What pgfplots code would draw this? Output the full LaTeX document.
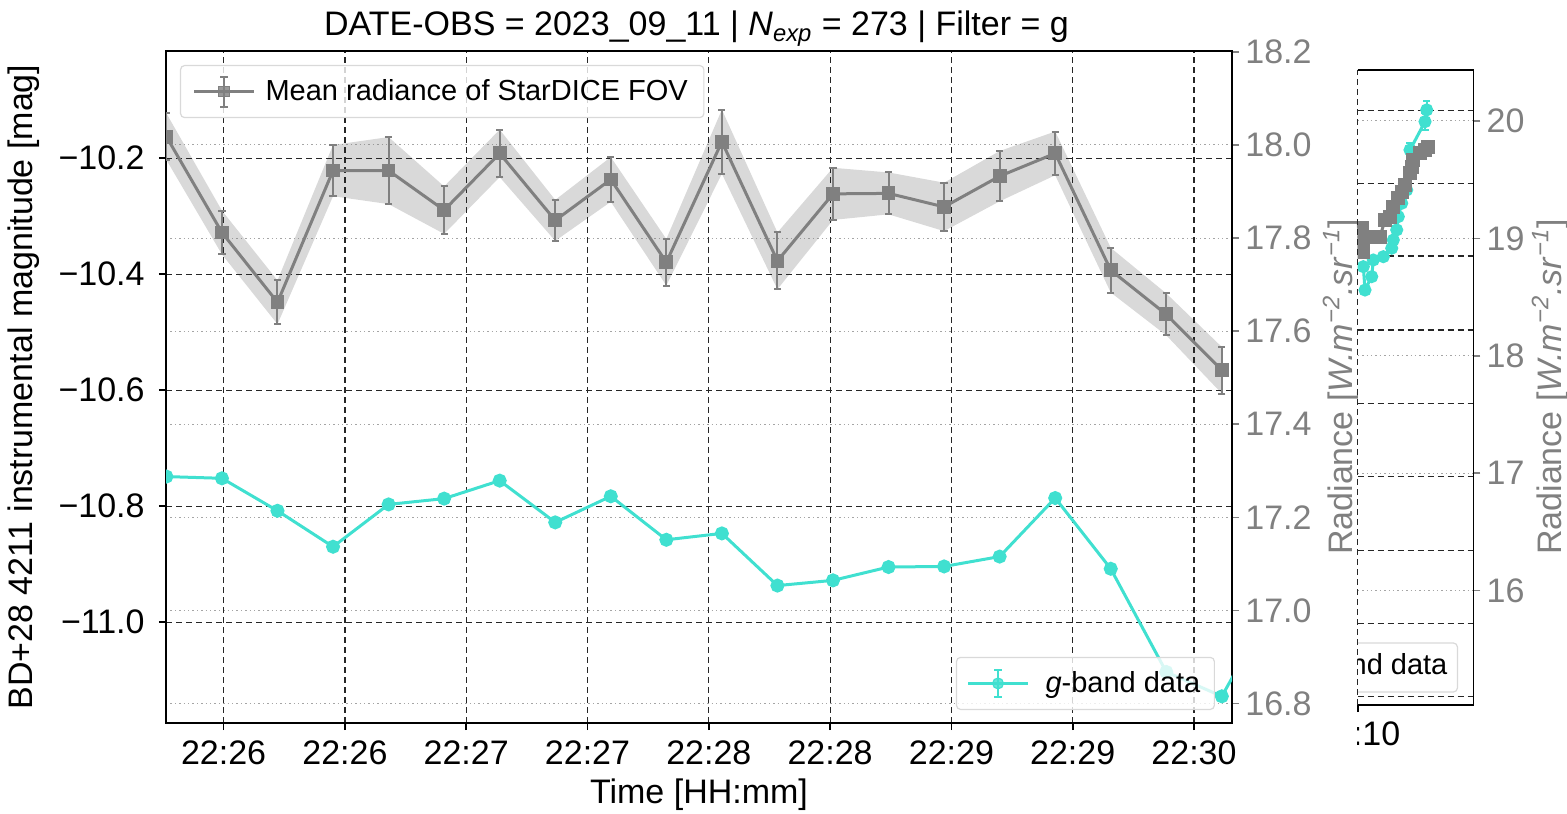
\documentclass[border=0pt]{standalone}
\usepackage{pgfplots}
\pgfplotsset{compat=1.18}
\usepackage{pgfplotstable}
\usepgfplotslibrary{fillbetween}
\usepackage{fontspec}
\setmainfont{Liberation Sans}
\definecolor{mgray}{RGB}{128,128,128}
\definecolor{turq}{RGB}{64,224,208}
\definecolor{gridgray}{RGB}{165,165,165}
\newcommand{\tf}{\fontsize{17}{20}\selectfont}
\newcommand{\lf}{\fontsize{14.5}{17}\selectfont}

% Mean radiance of StarDICE FOV (right axis)
\pgfplotstableread{
x y e
0 18.018 0.050
1 17.812 0.047
2 17.662 0.047
3 17.945 0.055
4 17.945 0.072
5 17.860 0.051
6 17.982 0.051
7 17.838 0.044
8 17.926 0.048
9 17.748 0.050
10 18.007 0.069
11 17.751 0.061
12 17.895 0.056
13 17.896 0.045
14 17.867 0.052
15 17.933 0.054
16 17.982 0.047
17 17.731 0.048
18 17.636 0.045
19 17.516 0.050
}\grayd

% g-band data (left axis)
\pgfplotstableread{
x y
0 -10.749
1 -10.752
2 -10.808
3 -10.870
4 -10.797
5 -10.787
6 -10.756
7 -10.828
8 -10.783
9 -10.858
10 -10.847
11 -10.937
12 -10.928
13 -10.905
14 -10.904
15 -10.887
16 -10.786
17 -10.908
18 -11.086
19 -11.128
20 -10.956
}\cyand

% side panel
\pgfplotstableread{
x y
1.0 19.050
4.0 19.086
5.6 18.972
5.6 18.887
14.0 19.014
22.3 19.014
27.3 19.157
32.3 19.185
35.6 19.270
40.6 19.342
44.0 19.398
47.3 19.455
52.3 19.555
54.0 19.611
55.6 19.668
62.3 19.725
67.3 19.753
70.6 19.776
}\panelgray

\pgfplotstableread{
x y e
5.6 18.759 0.03
7.3 18.560 0.03
14.0 18.674 0.03
15.6 18.816 0.03
25.6 18.844 0.03
34.0 18.916 0.03
35.6 18.986 0.03
39.0 19.072 0.03
40.6 19.185 0.03
44.0 19.299 0.03
49.0 19.412 0.03
52.3 19.753 0.06
67.3 19.994 0.07
69.0 20.094 0.08
}\panelcyan

\begin{document}
\begin{tikzpicture}

% ---------- main axis: left (magnitude) ----------
\begin{axis}[
  name=main,
  at={(83pt,45pt)}, anchor=south west,
  scale only axis, width=533pt, height=336pt,
  xmin=-0.007, xmax=19.183,
  ymin=-11.174, ymax=-10.015,
  tick pos=left, tick align=outside,
  major tick length=3.5pt,
  xtick={1.030,3.2136,5.3972,7.5808,9.7644,11.948,14.1316,16.3152,18.4988},
  xticklabels={22:26,22:26,22:27,22:27,22:28,22:28,22:29,22:29,22:30},
  ytick={-11.0,-10.8,-10.6,-10.4,-10.2},
  yticklabels={−11.0,−10.8,−10.6,−10.4,−10.2},
  ticklabel style={font=\tf, inner sep=0pt},
  xticklabel shift=5pt, yticklabel shift=7pt,
  grid=major,
  major grid style={black!85, line width=0.6pt, dash pattern=on 3pt off 2pt},
  axis line style={line width=0.8pt},
  tick style={black, line width=0.8pt},
  clip marker paths=true,
  legend style={at={(0.984,0.0193)}, anchor=south east, font=\lf,
    draw=black!15, rounded corners=2pt, fill=white, fill opacity=0.8, text opacity=1,
    inner xsep=5pt, inner ysep=5pt, line width=0.6pt},
]
\addlegendimage{legend image code/.code={
  \draw[turq, line width=1.5pt, sharp corners] (0pt,0pt) -- (30pt,0pt);
  \draw[turq, line width=1pt, sharp corners] (15pt,-6.75pt) -- (15pt,6.75pt) (13pt,-6.75pt) -- (17pt,-6.75pt) (13pt,6.75pt) -- (17pt,6.75pt);
  \fill[turq] (15pt,0pt) circle (2.7pt);
}}
\addlegendentry{\hspace{6pt}\textit{g}-band data}
\addplot[turq, line width=1.5pt, mark=*, mark size=2.75pt, forget plot] table[x=x,y=y]{\cyand};
\end{axis}

% ---------- main axis: right (radiance) ----------
\begin{axis}[
  at={(83pt,45pt)}, anchor=south west,
  scale only axis, width=533pt, height=336pt,
  xmin=-0.007, xmax=19.183,
  ymin=16.758, ymax=18.202,
  axis x line=none, axis y line*=right,
  tick align=outside, major tick length=3.5pt,
  ytick={16.8,17.0,17.2,17.4,17.6,17.8,18.0,18.2},
  yticklabels={16.8,17.0,17.2,17.4,17.6,17.8,18.0,18.2},
  yticklabel style={font=\tf, text=mgray, inner sep=0pt},
  yticklabel shift=3pt,
  ymajorgrids,
  major grid style={gridgray, line width=0.5pt, dash pattern=on 0.7pt off 1.5pt},
  y axis line style={line width=0.8pt},
  ytick style={mgray, line width=0.8pt},
  clip marker paths=true,
  legend style={at={(0.0131,0.9792)}, anchor=north west, font=\lf,
    draw=black!15, rounded corners=2pt, fill=white, fill opacity=0.8, text opacity=1,
    inner xsep=6pt, inner ysep=5pt, line width=0.6pt},
]
\addlegendimage{legend image code/.code={
  \draw[mgray, line width=1.5pt, sharp corners] (0pt,0pt) -- (30pt,0pt);
  \draw[mgray, line width=1pt, sharp corners] (15pt,-7.5pt) -- (15pt,7.5pt) (13pt,-7.5pt) -- (17pt,-7.5pt) (13pt,7.5pt) -- (17pt,7.5pt);
  \fill[mgray, sharp corners] (12.4pt,-2.6pt) rectangle (17.6pt,2.6pt);
}}
\addlegendentry{\hspace{3pt}Mean radiance of StarDICE FOV}
\addplot[name path=up, draw=none, forget plot] table[x=x, y expr=\thisrow{y}+\thisrow{e}]{\grayd};
\addplot[name path=lo, draw=none, forget plot] table[x=x, y expr=\thisrow{y}-\thisrow{e}]{\grayd};
\addplot[fill=mgray, fill opacity=0.3, draw=none, forget plot] fill between[of=up and lo];
\addplot[mgray, line width=1.5pt, mark=square*, mark size=2.7pt, forget plot,
  error bars/.cd, y dir=both, y explicit,
  error bar style={line width=1pt},
  error mark options={rotate=90, mark size=1.8pt, line width=1pt}]
  table[x=x, y=y, y error=e]{\grayd};
\end{axis}

% titles and labels
\node[font=\fontsize{17}{20}\selectfont, anchor=base] at (348.25pt,388.5pt)
  {DATE-OBS = 2023\_09\_11 | \textit{N}\textsubscript{\textit{exp}} = 273 | Filter = g};
\node[font=\tf, anchor=base] at (349.5pt,5pt) {Time [HH:mm]};
\node[font=\tf, rotate=90, anchor=base] at (16.5pt,213pt) {BD+28 4211 instrumental magnitude [mag]};
\node[font=\tf, rotate=90, anchor=base, text=mgray] at (676pt,213pt)
  {Radiance [\textit{W.m}\textsuperscript{\textit{−2}}\textit{.sr}\textsuperscript{\textit{−1}}]};

% ---------- side panel ----------
\begin{axis}[
  name=panel,
  at={(678.85pt,54pt)}, anchor=south west,
  scale only axis, width=57.8pt, height=317.5pt,
  xmin=0, xmax=115.6, ymin=15.026, ymax=20.434,
  axis background/.style={fill=white},
  axis line style={draw=none},
  tick align=outside, major tick length=3.5pt,
  xtick={0}, xticklabels={}, xtick pos=left,
  ytick pos=right,
  ytick={16,17,18,19,20}, yticklabels={16,17,18,19,20},
  yticklabel style={font=\tf, text=mgray, inner sep=0pt},
  yticklabel shift=3pt,
  ymajorgrids,
  major grid style={gridgray, line width=0.5pt, dash pattern=on 0.7pt off 1.5pt},
  tick style={mgray, line width=0.8pt},
  xtick style={black, line width=0.8pt},
  extra y ticks={15.096,15.721,16.343,16.970,17.595,18.220,18.850,19.469,20.088},
  extra y tick labels={},
  extra y tick style={major tick length=0pt, tick style={draw=none},
    major grid style={black!85, line width=0.6pt, dash pattern=on 3pt off 2pt}},
  clip marker paths=true,
]
\addplot[turq, line width=1.5pt, mark=*, mark size=2.5pt,
  error bars/.cd, y dir=both, y explicit,
  error bar style={line width=1pt},
  error mark options={rotate=90, mark size=1.8pt, line width=1pt}]
  table[x=x, y=y, y error=e]{\panelcyan};
\addplot[mgray, line width=1.5pt, mark=square*, mark size=2.7pt] table[x=x,y=y]{\panelgray};
\end{axis}

\begin{scope}
\clip (678.85pt,0pt) rectangle (783.5pt,406.5pt);
\node[font=\tf, anchor=base] at (678.85pt,34pt) {22:10};
\node[font=\lf, draw=black!15, rounded corners=2pt, fill=white, anchor=east,
  minimum height=24.5pt, inner xsep=5pt, line width=0.6pt] at (729pt,72.75pt) {\textit{g}-band data};
\end{scope}
\draw[black, line width=0.8pt] (panel.north west) -- (panel.north east) -- (panel.south east) -- (panel.south west);
\draw[black!85, line width=0.6pt, dash pattern=on 3pt off 2pt] (panel.south west) -- (panel.north west);

\node[font=\tf, rotate=90, anchor=base, text=mgray] at (780.5pt,213pt)
  {Radiance [\textit{W.m}\textsuperscript{\textit{−2}}\textit{.sr}\textsuperscript{\textit{−1}}]};

\pgfresetboundingbox
\useasboundingbox (0,0) rectangle (783.5pt,406.5pt);
\end{tikzpicture}
\end{document}
